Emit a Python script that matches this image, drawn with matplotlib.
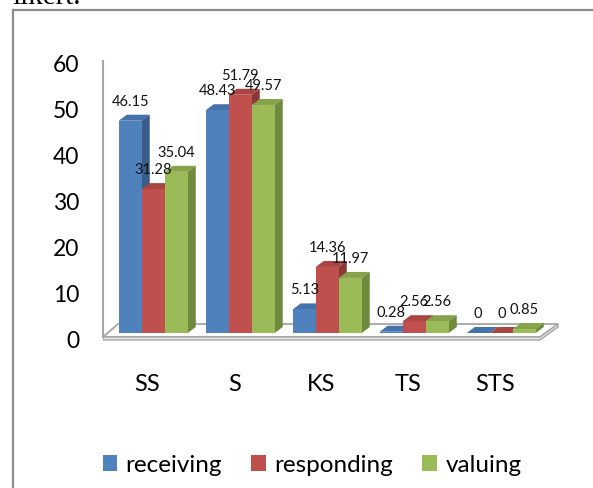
import matplotlib.pyplot as plt
from matplotlib.patches import Polygon, Patch
from matplotlib.lines import Line2D
from matplotlib.transforms import ScaledTranslation
import numpy as np

plt.rcParams['font.family'] = ['Lato', 'DejaVu Sans']

# ---- data ----
categories = ['SS', 'S', 'KS', 'TS', 'STS']
series_names = ['receiving', 'responding', 'valuing']
receiving = [46.15, 48.43, 5.13, 0.28, 0]
responding = [31.28, 51.79, 14.36, 2.56, 0]
valuing = [35.04, 49.57, 11.97, 2.56, 0.85]
labels_txt = [['46.15', '48.43', '5.13', '0.28', '0'],
              ['31.28', '51.79', '14.36', '2.56', '0'],
              ['35.04', '49.57', '11.97', '2.56', '0.85']]
yticks = [0, 10, 20, 30, 40, 50, 60]

front = ['#4F81BD', '#C0504D', '#9BBB59']
top_c = ['#4472AA', '#A94643', '#86A34B']
side_c = ['#385D8A', '#8C3836', '#6E8A3D']

W, H = 593, 489
fig = plt.figure(figsize=(W / 100, H / 100), dpi=100)
fig.patch.set_facecolor('white')

# plot area in pixels (origin top-left)
L, R, T, B = 103, 560, 40, 345
GX, XS = 153.25, 87.0      # pixel of group 0 centre, pixels per group
Y0, YS = 334.0, 4.6        # pixel of value 0, pixels per unit


def px2x(px):
    return (px - GX) / XS


def px2y(py):
    return (Y0 - py) / YS


ax = fig.add_axes([L / W, 1 - B / H, (R - L) / W, (B - T) / H])
ax.set_xlim(px2x(L), px2x(R))
ax.set_ylim(px2y(B), px2y(T))
ax.patch.set_alpha(0)

bw = 23 / XS
ddx, ddy = 8 / XS, 6 / YS

# floor (3D slab)
fl, fr, bl, br = (103, 338), (540, 338), (118, 325), (558, 325)
th = 3
floor = Polygon([(px2x(fl[0]), px2y(fl[1])), (px2x(fr[0]), px2y(fr[1])),
                 (px2x(br[0]), px2y(br[1])), (px2x(bl[0]), px2y(bl[1]))],
                closed=True, facecolor='white', edgecolor='#A6A6A6', lw=1.3, zorder=1)
ax.add_patch(floor)
slab = Polygon([(px2x(fl[0]), px2y(fl[1])), (px2x(fr[0]), px2y(fr[1])),
                (px2x(br[0]), px2y(br[1])), (px2x(br[0]), px2y(br[1] + th)),
                (px2x(fr[0]), px2y(fr[1] + th)), (px2x(fl[0]), px2y(fl[1] + th))],
               closed=True, facecolor='#E6E6E6', edgecolor='#A6A6A6', lw=1.0, zorder=1)
ax.add_patch(slab)

series = [receiving, responding, valuing]
x = np.arange(len(categories))
for j, vals in enumerate(series):
    pos = x + (j - 1) * bw
    ax.bar(pos, vals, bw, color=front[j], zorder=3 + j * 2, linewidth=0)
    for p, v, t in zip(pos, vals, labels_txt[j]):
        x0, x1 = p - bw / 2, p + bw / 2
        ax.add_patch(Polygon([(x0, v), (x1, v), (x1 + ddx, v + ddy), (x0 + ddx, v + ddy)],
                             closed=True, facecolor=top_c[j], lw=0, zorder=2 + j * 2))
        ax.add_patch(Polygon([(x1, 0), (x1, v), (x1 + ddx, v + ddy), (x1 + ddx, ddy)],
                             closed=True, facecolor=side_c[j], lw=0, zorder=2 + j * 2))
        ax.annotate(t, (p, v), xytext=(0, 14.4), textcoords='offset points',
                    ha='center', va='center', fontsize=10.5, color='#111111', zorder=10)

# axes styling
for s in ['top', 'right', 'bottom']:
    ax.spines[s].set_visible(False)
ax.spines['left'].set_color('#A6A6A6')
ax.spines['left'].set_linewidth(1.5)
ax.spines['left'].set_bounds(px2y(338), px2y(62))
ax.set_yticks(yticks)
ax.set_yticklabels([str(v) for v in yticks])
ax.tick_params(axis='y', length=0, pad=17, labelsize=16.5)
for lab in ax.get_yticklabels():
    lab.set_transform(lab.get_transform() + ScaledTranslation(0, -6 / 100, fig.dpi_scale_trans))
ax.set_xticks(x)
ax.set_xticklabels(categories)
ax.tick_params(axis='x', length=0, pad=21, labelsize=17)
for lab in ax.get_xticklabels():
    lab.set_transform(lab.get_transform() + ScaledTranslation(-6 / 100, 0, fig.dpi_scale_trans))

# legend
handles = [Patch(facecolor=c, edgecolor='none') for c in front]
fig.legend(handles, series_names, loc='center', bbox_to_anchor=(312 / W, 1 - 466 / H),
           ncol=3, frameon=False, fontsize=17.5, handlelength=0.6, handleheight=0.6,
           handletextpad=0.35, columnspacing=1.2)

# outer frame (left and top edges visible)
fig.add_artist(Line2D([13 / W, 13 / W], [0, 1 - 11 / H], color='#8C8C8C', lw=1.6))
fig.add_artist(Line2D([13 / W, 1], [1 - 11 / H, 1 - 11 / H], color='#8C8C8C', lw=1.6))

# cut-off document text above the chart
fig.text(12 / W, 1 - 4 / H, 'likert.', family='Liberation Serif', fontsize=21,
         ha='left', va='baseline', color='black')

fig.savefig('out.png', dpi=100, facecolor='white')
